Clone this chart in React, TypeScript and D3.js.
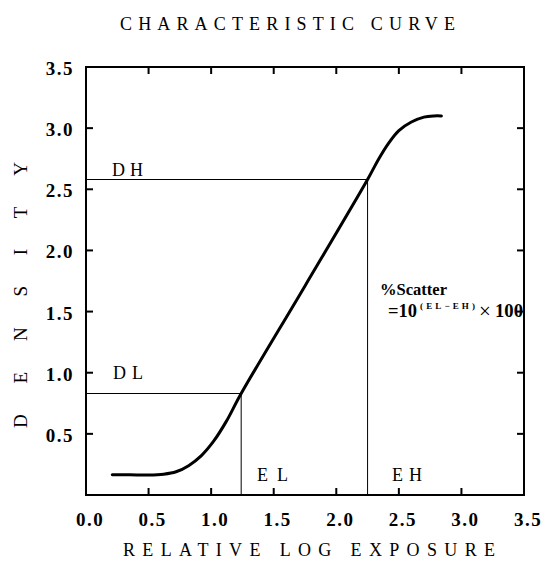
import React from "react";
import * as d3 from "d3";

const curveX = [0.21, 0.35, 0.5, 0.62, 0.72, 0.82, 0.92, 1.02, 1.12, 1.24, 1.75, 2.25, 2.34, 2.42, 2.5, 2.6, 2.7, 2.78, 2.84];
const curveD = [0.165, 0.165, 0.163, 0.17, 0.19, 0.24, 0.32, 0.44, 0.6, 0.83, 1.71, 2.58, 2.75, 2.88, 2.98, 3.05, 3.09, 3.1, 3.1];
const xTicks = [0, 0.5, 1.0, 1.5, 2.0, 2.5, 3.0, 3.5];
const yTicks = [0.5, 1.0, 1.5, 2.0, 2.5, 3.0, 3.5];
const EL = 1.24;
const EH = 2.25;
const DL = 0.83;
const DH = 2.58;

const W = 545;
const H = 566;
const L = 86, R = 524, T = 67, B = 495;

export default function App() {
  const x = d3.scaleLinear().domain([0, 3.5]).range([L, R]);
  const y = d3.scaleLinear().domain([0, 3.5]).range([B, T]);
  const pts = curveX.map((v, i) => [v, curveD[i]] as [number, number]);
  const line = d3.line<[number, number]>().x(d => x(d[0])).y(d => y(d[1])).curve(d3.curveCatmullRom.alpha(0.5));
  const fmt = (v: number) => v.toFixed(1);
  const tickFont = { fontFamily: "Liberation Serif", fontWeight: 700, fontSize: 19, letterSpacing: 1.5 } as const;
  const labFont = { fontFamily: "Liberation Serif", fontSize: 18 } as const;
  const bold = { fontFamily: "Liberation Serif", fontWeight: 700 } as const;
  return (
    <svg width={W} height={H} style={{ position: "absolute", left: 0, top: 0, background: "#fff" }}>
      <rect x={0} y={0} width={W} height={H} fill="#fff" />
      <text x={120} y={30} textLength={335} lengthAdjust="spacing" fontFamily="Liberation Serif" fontSize={18}>CHARACTERISTIC CURVE</text>
      {/* frame */}
      <rect x={L} y={T} width={R - L} height={B - T} fill="none" stroke="#000" strokeWidth={2} />
      {xTicks.slice(1, -1).map(t => (
        <g key={"xt" + t}>
          <line x1={x(t)} x2={x(t)} y1={B} y2={B - 7} stroke="#000" strokeWidth={2} />
          <line x1={x(t)} x2={x(t)} y1={T} y2={T + 7} stroke="#000" strokeWidth={2} />
        </g>
      ))}
      {yTicks.slice(0, -1).map(t => (
        <g key={"yt" + t}>
          <line x1={L} x2={L + 7} y1={y(t)} y2={y(t)} stroke="#000" strokeWidth={2} />
          <line x1={R} x2={R - 7} y1={y(t)} y2={y(t)} stroke="#000" strokeWidth={2} />
        </g>
      ))}
      {xTicks.map(t => (
        <text key={"xl" + t} x={x(t) + 4} y={526} textAnchor="middle" {...tickFont}>{fmt(t)}</text>
      ))}
      {yTicks.map(t => (
        <text key={"yl" + t} x={74} y={y(t) + 8} textAnchor="end" {...tickFont}>{fmt(t)}</text>
      ))}
      {/* reference lines */}
      <line x1={L} x2={x(EH)} y1={y(DH)} y2={y(DH)} stroke="#000" strokeWidth={1} />
      <line x1={x(EH)} x2={x(EH)} y1={y(DH)} y2={B} stroke="#000" strokeWidth={1} />
      <line x1={L} x2={x(EL)} y1={y(DL)} y2={y(DL)} stroke="#000" strokeWidth={1} />
      <line x1={x(EL)} x2={x(EL)} y1={y(DL)} y2={B} stroke="#000" strokeWidth={1} />
      <path d={line(pts) || ""} fill="none" stroke="#000" strokeWidth={3} strokeLinejoin="round" strokeLinecap="round" />
      <text x={112} y={176} textLength={31} lengthAdjust="spacing" {...labFont}>DH</text>
      <text x={113} y={379} textLength={30} lengthAdjust="spacing" {...labFont}>DL</text>
      <text x={257} y={481} textLength={31} lengthAdjust="spacing" {...labFont}>EL</text>
      <text x={392} y={481} textLength={30} lengthAdjust="spacing" {...labFont}>EH</text>
      <text x={380} y={295} textLength={67} lengthAdjust="spacingAndGlyphs" fontSize={16} {...bold}>%Scatter</text>
      <text x={388} y={317} textLength={29} lengthAdjust="spacingAndGlyphs" fontSize={19} {...bold}>=10</text>
      <text x={420} y={309} textLength={55} lengthAdjust="spacing" fontSize={9} {...bold}>(EL−EH)</text>
      <text x={479} y={318} fontSize={21} fontFamily="Liberation Serif">×</text>
      <text x={495} y={317} textLength={28} lengthAdjust="spacingAndGlyphs" fontSize={19} {...bold}>100</text>
      <text x={123} y={556} textLength={372} lengthAdjust="spacing" fontFamily="Liberation Serif" fontSize={18}>RELATIVE LOG EXPOSURE</text>
      <text transform="translate(27,428) rotate(-90)" textLength={266} lengthAdjust="spacing" fontFamily="Liberation Serif" fontSize={19}>DENSITY</text>
    </svg>
  );
}
